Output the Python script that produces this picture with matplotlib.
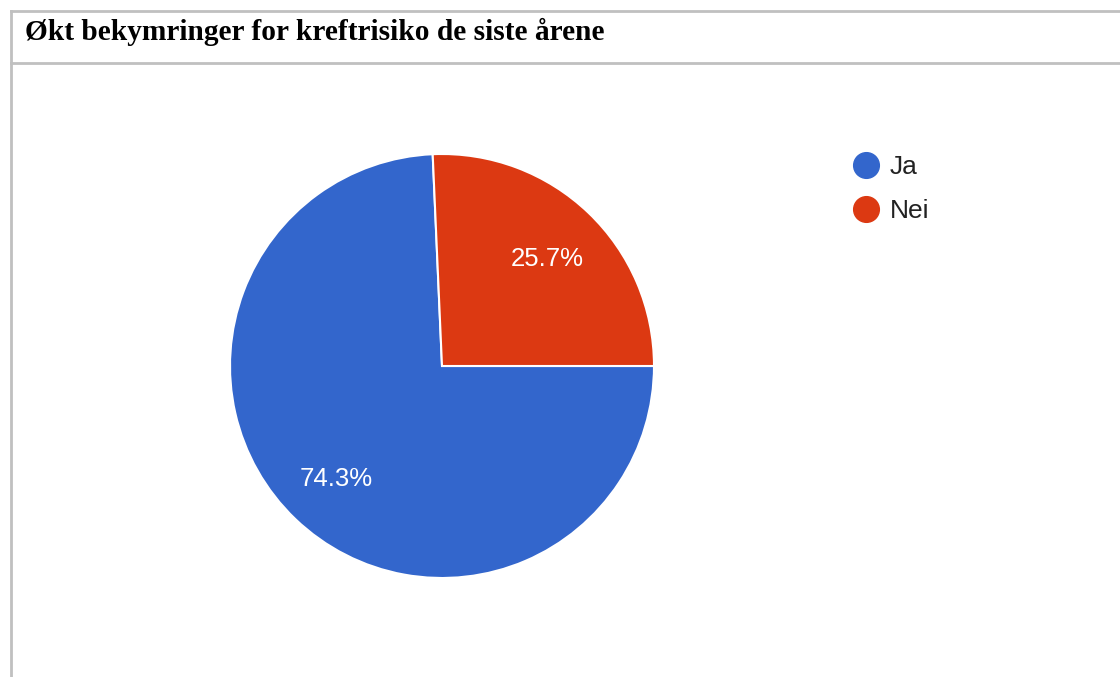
import numpy as np
import matplotlib
matplotlib.use("Agg")
import matplotlib.pyplot as plt
import matplotlib.transforms as mtransforms
from matplotlib.lines import Line2D

title = "Økt bekymringer for kreftrisiko de siste årene"
labels = ["Ja", "Nei"]
values = [74.3, 25.7]
colors = ["#3366CC", "#DC3912"]

W, H = 1120, 677
fig = plt.figure(figsize=(W / 100, H / 100), dpi=100)
fig.patch.set_facecolor("white")

# pie axes: centre (442, 366) px, radius 212 px
cx, cy, r = 442, 366, 212
ax = fig.add_axes([(cx - r) / W, 1 - (cy + r) / H, 2 * r / W, 2 * r / H])
wedges, _, autotexts = ax.pie(values, colors=colors, startangle=0, counterclock=False,
                              autopct="%.1f%%", pctdistance=0.72,
                              wedgeprops=dict(edgecolor="white", linewidth=1.5),
                              textprops=dict(color="white", fontsize=18.5,
                                             family="Liberation Sans"))
for t in autotexts:
    # nudge labels down a few pixels
    t.set_transform(mtransforms.offset_copy(ax.transData, fig=fig, x=0, y=-3, units="dots"))
ax.set_aspect("equal")
ax.set_xlim(-1, 1)
ax.set_ylim(-1, 1)
ax.axis("off")

# legend
handles = [Line2D([], [], marker="o", linestyle="none", markersize=18.5,
                  markerfacecolor=c, markeredgecolor=c) for c in colors]
fig.legend(handles, labels, loc="upper left", bbox_to_anchor=(850 / W, 1 - 155 / H),
           frameon=False, prop=dict(family="Liberation Sans", size=19),
           labelcolor="#222222", handletextpad=0.3, labelspacing=0.76,
           borderpad=0, borderaxespad=0, handlelength=1.2)

# frame lines
gray = "#C0C0C0"
fig.add_artist(Line2D([11 / W, 1], [1 - 11 / H, 1 - 11 / H], color=gray, lw=2))
fig.add_artist(Line2D([11 / W, 1], [1 - 63 / H, 1 - 63 / H], color=gray, lw=2))
fig.add_artist(Line2D([11 / W, 11 / W], [1 - 11 / H, 0], color=gray, lw=2))

fig.text(25 / W, 1 - 32 / H, title, family="Liberation Serif", weight="bold",
         fontsize=21.2, va="center", ha="left", color="black")

fig.savefig("out.png", dpi=100)
